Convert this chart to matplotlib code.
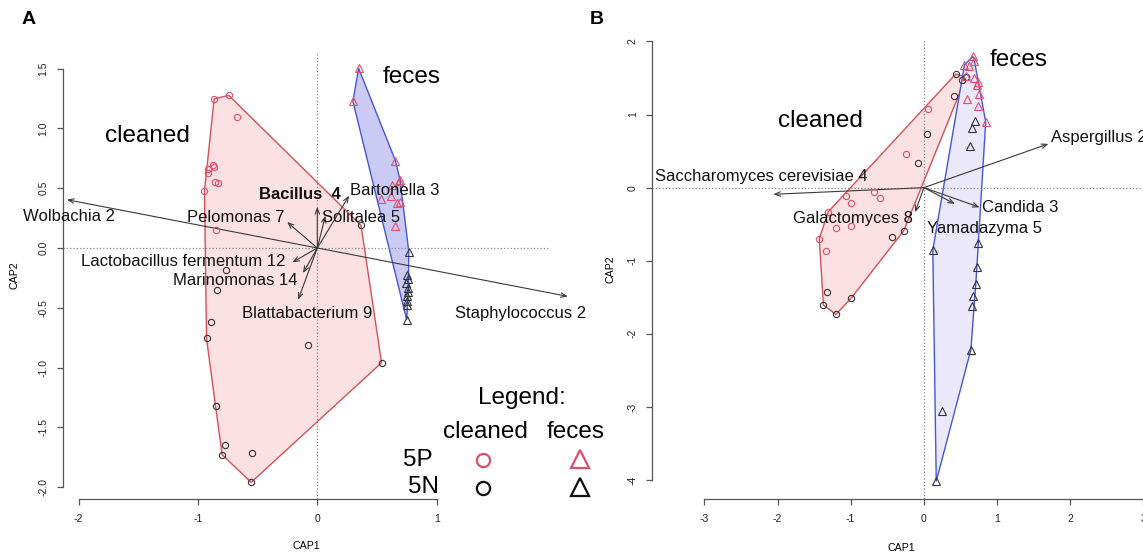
import matplotlib
matplotlib.use("Agg")
import matplotlib.pyplot as plt
import numpy as np

plt.rcParams['font.family'] = ['Liberation Sans', 'DejaVu Sans']
plt.rcParams['axes.unicode_minus'] = False

# ---- panel A: bacteria -------------------------------------------------
a_clean_p_x = [-0.864, -0.742, -0.669, -0.877, -0.864, -0.912, -0.919, -0.855, -0.833, -0.945, -0.849]
a_clean_p_y = [1.247, 1.277, 1.099, 0.697, 0.678, 0.661, 0.630, 0.555, 0.541, 0.480, 0.153]
a_clean_n_x = [0.366, -0.765, -0.839, -0.890, -0.928, -0.074, 0.538, -0.852, -0.772, -0.797, -0.544, -0.554]
a_clean_n_y = [0.189, -0.182, -0.355, -0.617, -0.756, -0.809, -0.960, -1.325, -1.649, -1.730, -1.719, -1.961]
a_feces_p_x = [0.346, 0.298, 0.654, 0.692, 0.683, 0.625, 0.535, 0.615, 0.670, 0.689, 0.654]
a_feces_p_y = [1.503, 1.227, 0.731, 0.572, 0.563, 0.527, 0.410, 0.432, 0.373, 0.382, 0.184]
a_feces_n_x = [0.766, 0.751, 0.762, 0.746, 0.757, 0.762, 0.748, 0.754, 0.751, 0.748]
a_feces_n_y = [-0.030, -0.223, -0.260, -0.293, -0.335, -0.368, -0.405, -0.441, -0.474, -0.600]

a_taxa = ['Wolbachia 2', 'Staphylococcus 2', 'Bacillus  4', 'Bartonella 3', 'Solitalea 5',
          'Pelomonas 7', 'Lactobacillus fermentum 12', 'Marinomonas 14', 'Blattabacterium 9']
a_tip_x = [-2.097, 2.098, 0.0, 0.266, 0.068, -0.253, -0.209, -0.120, -0.161]
a_tip_y = [0.404, -0.405, 0.343, 0.438, 0.270, 0.217, -0.120, -0.209, -0.433]
a_lab_x = [-2.08, 1.70, -0.144, 0.648, 0.369, -0.683, -1.124, -0.688, -0.083]
a_lab_y = [0.264, -0.544, 0.446, 0.480, 0.259, 0.259, -0.112, -0.271, -0.544]

# ---- panel B: fungi ----------------------------------------------------
b_clean_p_x = [0.053, -0.25, -0.679, -0.597, -1.06, -0.997, -1.306, -1.203, -0.992, -1.430, -1.335]
b_clean_p_y = [1.078, 0.462, -0.055, -0.145, -0.114, -0.205, -0.329, -0.548, -0.521, -0.699, -0.863]
b_clean_n_x = [0.434, 0.520, 0.579, 0.410, 0.049, -0.082, -0.275, -0.429, -1.325, -0.997, -1.373, -1.203]
b_clean_n_y = [1.553, 1.466, 1.516, 1.260, 0.731, 0.334, -0.589, -0.680, -1.433, -1.516, -1.607, -1.735]
b_feces_p_x = [0.669, 0.555, 0.622, 0.690, 0.570, 0.690, 0.738, 0.724, 0.751, 0.593, 0.733, 0.845]
b_feces_p_y = [1.795, 1.681, 1.671, 1.736, 1.521, 1.499, 1.444, 1.403, 1.284, 1.215, 1.119, 0.900]
b_feces_n_x = [0.694, 0.652, 0.637, 0.122, 0.738, 0.724, 0.709, 0.665, 0.656, 0.642, 0.246, 0.169]
b_feces_n_y = [0.918, 0.814, 0.575, -0.853, -0.753, -1.090, -1.323, -1.479, -1.616, -2.219, -3.055, -4.018]

b_taxa = ['Aspergillus 2', 'Saccharomyces cerevisiae 4', 'Candida 3', 'Yamadazyma 5', 'Galactomyces 8']
b_tip_x = [1.702, -2.057, 0.762, 0.424, -0.120]
b_tip_y = [0.599, -0.091, -0.269, -0.223, -0.337]
b_lab_x = [1.74, -2.221, 1.318, 0.822, -0.969]
b_lab_y = [0.69, 0.151, -0.274, -0.562, -0.419]

RED = '#de5068'
HULL_RED = '#d6505a'
HULL_BLUE = '#4656d8'
ARROW = '#3a3a3a'


def convex_hull(xs, ys):
    pts = sorted(set(zip(xs, ys)))

    def cross(o, a, b):
        return (a[0] - o[0]) * (b[1] - o[1]) - (a[1] - o[1]) * (b[0] - o[0])

    lower, upper = [], []
    for p in pts:
        while len(lower) >= 2 and cross(lower[-2], lower[-1], p) <= 0:
            lower.pop()
        lower.append(p)
    for p in reversed(pts):
        while len(upper) >= 2 and cross(upper[-2], upper[-1], p) <= 0:
            upper.pop()
        upper.append(p)
    hull = lower[:-1] + upper[:-1]
    return [p[0] for p in hull], [p[1] for p in hull]


def draw_panel(ax, clean_p, clean_n, feces_p, feces_n, taxa, tips, labs,
               blue_fill, ha_map):
    cx, cy = convex_hull(clean_p[0] + clean_n[0], clean_p[1] + clean_n[1])
    ax.fill(cx, cy, facecolor='#fbe1e1', edgecolor=HULL_RED, lw=1.0, zorder=1)
    fx, fy = convex_hull(feces_p[0] + feces_n[0], feces_p[1] + feces_n[1])
    ax.fill(fx, fy, facecolor=blue_fill, edgecolor=HULL_BLUE, lw=1.0, zorder=1)

    ax.axhline(0, color='#888888', ls=':', lw=0.9, zorder=2)
    ax.axvline(0, color='#888888', ls=':', lw=0.9, zorder=2)

    kw = dict(ls='none', mfc='none', mew=0.8, zorder=4)
    ax.plot(*clean_p, marker='o', ms=4.5, mec=RED, **kw)
    ax.plot(*clean_n, marker='o', ms=4.5, mec='#333333', **kw)
    ax.plot(*feces_p, marker='^', ms=5.5, mec=RED, **kw)
    ax.plot(*feces_n, marker='^', ms=5.5, mec='#333333', **kw)

    for name, tx, ty, lx, ly in zip(taxa, tips[0], tips[1], labs[0], labs[1]):
        ax.annotate('', xy=(tx, ty), xytext=(0, 0), annotation_clip=False,
                    arrowprops=dict(arrowstyle='->,head_length=0.4,head_width=0.16',
                                    color=ARROW, lw=0.8, shrinkA=0, shrinkB=0),
                    zorder=3)
        weight = 'bold' if name.startswith('Bacillus') else 'normal'
        ax.text(lx, ly, name, fontsize=12, ha=ha_map.get(name, 'center'),
                va='center', fontweight=weight, color='#111111', zorder=5)

    for side in ('top', 'right'):
        ax.spines[side].set_visible(False)
    for side in ('left', 'bottom'):
        ax.spines[side].set_color('#555555')
        ax.spines[side].set_linewidth(0.9)
    ax.tick_params(length=4.5, width=0.9, color='#555555', labelsize=7.5,
                   labelcolor='#222222', pad=6)
    ax.tick_params(axis='y', labelrotation=90)
    for t in ax.get_yticklabels():
        t.set_va('center')
    ax.set_xlabel('CAP1', fontsize=7.7)
    ax.set_ylabel('CAP2', fontsize=7.7)


fig = plt.figure(figsize=(11.43, 5.54), dpi=100)

# panel A
axA = fig.add_axes([0.0551, 0.0993, 0.4252, 0.8069])
axA.set_xlim(-2.13, 1.94)
axA.set_ylim(-2.10, 1.64)
axA.set_xticks([-2, -1, 0, 1])
axA.set_yticks([-2.0, -1.5, -1.0, -0.5, 0.0, 0.5, 1.0, 1.5])
axA.set_yticklabels(['-2.0', '-1.5', '-1.0', '-0.5', '0.0', '0.5', '1.0', '1.5'])
axA.spines['bottom'].set_bounds(-2, 1)
axA.spines['left'].set_bounds(-2, 1.5)
draw_panel(axA, (a_clean_p_x, a_clean_p_y), (a_clean_n_x, a_clean_n_y),
           (a_feces_p_x, a_feces_p_y), (a_feces_n_x, a_feces_n_y),
           a_taxa, (a_tip_x, a_tip_y), (a_lab_x, a_lab_y), '#c9cbf5', {})
axA.text(-1.425, 0.934, 'cleaned', fontsize=17.5, ha='center', va='center')
axA.text(0.788, 1.428, 'feces', fontsize=17.5, ha='center', va='center')
axA.xaxis.set_label_coords(0.5, -0.095)
axA.yaxis.set_label_coords(-0.09, 0.5)

# legend drawn as free text, like the original base-R plot
lt = axA.transAxes
axA.text(0.9438, 0.226, 'Legend:', transform=lt, fontsize=17.5, ha='center', va='center')
axA.text(0.8683, 0.1506, 'cleaned', transform=lt, fontsize=17.5, ha='center', va='center')
axA.text(1.0556, 0.1506, 'feces', transform=lt, fontsize=17.5, ha='center', va='center')
axA.text(0.7311, 0.0872, '5P', transform=lt, fontsize=17.5, ha='center', va='center')
axA.text(0.7414, 0.0257, '5N', transform=lt, fontsize=17.5, ha='center', va='center')
axA.plot([0.8648], [0.0872], transform=lt, marker='o', ms=9.5, mfc='none', mec=RED,
         mew=1.6, clip_on=False)
axA.plot([0.8648], [0.0253], transform=lt, marker='o', ms=9.5, mfc='none', mec='#111111',
         mew=1.6, clip_on=False)
axA.plot([1.0638], [0.0895], transform=lt, marker='^', ms=13, mfc='none', mec=RED,
         mew=1.6, clip_on=False)
axA.plot([1.0638], [0.0257], transform=lt, marker='^', ms=13, mfc='none', mec='#111111',
         mew=1.6, clip_on=False)

# panel B
axB = fig.add_axes([0.5708, 0.0993, 0.4353, 0.8285])
axB.set_xlim(-3.71, 3.09)
axB.set_ylim(-4.26, 2.02)
axB.set_xticks([-3, -2, -1, 0, 1, 2, 3])
axB.set_yticks([-4, -3, -2, -1, 0, 1, 2])
axB.spines['bottom'].set_bounds(-3, 3)
axB.spines['left'].set_bounds(-4, 2)
draw_panel(axB, (b_clean_p_x, b_clean_p_y), (b_clean_n_x, b_clean_n_y),
           (b_feces_p_x, b_feces_p_y), (b_feces_n_x, b_feces_n_y),
           b_taxa, (b_tip_x, b_tip_y), (b_lab_x, b_lab_y), '#ebe8fb',
           {'Aspergillus 2': 'left'})
axB.text(-1.407, 0.918, 'cleaned', fontsize=17.5, ha='center', va='center')
axB.text(1.292, 1.749, 'feces', fontsize=17.5, ha='center', va='center')
axB.xaxis.set_label_coords(0.5, -0.095)
axB.yaxis.set_label_coords(-0.075, 0.5)

fig.text(0.0248, 0.9639, 'A', fontsize=14, fontweight='bold', ha='center', va='center')
fig.text(0.5224, 0.9639, 'B', fontsize=14, fontweight='bold', ha='center', va='center')

fig.savefig('out.png', dpi=100)
